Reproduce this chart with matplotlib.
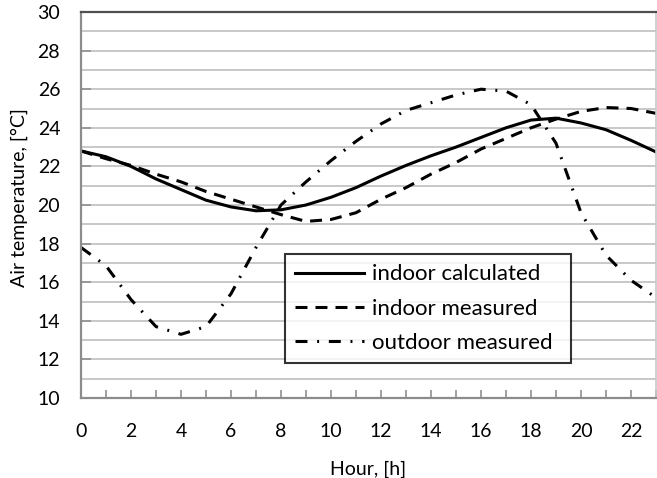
import matplotlib
matplotlib.use("Agg")
import matplotlib.pyplot as plt
import numpy as np

plt.rcParams['font.family'] = ['Lato', 'DejaVu Sans']
plt.rcParams['lines.scale_dashes'] = False

hours = list(range(24))
indoor_calculated = [22.8, 22.5, 22.0, 21.35, 20.8, 20.25, 19.9, 19.7,
                     19.75, 20.0, 20.4, 20.9, 21.5, 22.05, 22.55, 23.0,
                     23.5, 24.0, 24.4, 24.5, 24.25, 23.9, 23.35, 22.75]
indoor_measured = [22.8, 22.4, 22.05, 21.6, 21.2, 20.7, 20.3, 19.9,
                   19.5, 19.15, 19.25, 19.6, 20.3, 20.9, 21.6, 22.2,
                   22.9, 23.45, 24.0, 24.45, 24.85, 25.05, 25.0, 24.75]
outdoor_measured = [17.8, 16.85, 15.1, 13.7, 13.3, 13.7, 15.4, 17.8,
                    20.0, 21.2, 22.3, 23.3, 24.2, 24.9, 25.3, 25.7,
                    26.0, 25.9, 25.2, 23.2, 19.6, 17.4, 16.1, 15.2]

fig = plt.figure(figsize=(6.57, 4.78), dpi=100)
ax = fig.add_axes([81 / 657, 80 / 478, 575 / 657, 386 / 478])

lw = 2.2
ax.plot(hours, indoor_calculated, color='black', lw=lw, label='indoor calculated')
ax.plot(hours, indoor_measured, color='black', lw=lw, dashes=(8.6, 5.8),
        label='indoor measured')
ax.plot(hours, outdoor_measured, color='black', lw=lw,
        dashes=(8.6, 7.0, 1.4, 7.0), label='outdoor measured')

ax.set_xlim(0, 23)
ax.set_ylim(10, 30)
ax.set_xticks(np.arange(0, 23, 2))
ax.set_xticks(np.arange(0, 24, 1), minor=True)
ax.set_yticks(np.arange(10, 31, 2))
ax.set_yticks(np.arange(10, 31, 1), minor=True)

ax.grid(axis='y', which='both', color='#c4c4c4', lw=1.3)
ax.set_axisbelow(True)

ax.tick_params(axis='x', which='both', direction='in', length=6, width=1.2,
               color='#909090', pad=18, labelsize=14)
ax.tick_params(axis='y', which='major', direction='in', length=7, width=1.2,
               color='#909090', pad=15, labelsize=14)
ax.tick_params(axis='y', which='minor', length=0)

for side in ['left', 'bottom']:
    ax.spines[side].set_color('#8c8c8c')
    ax.spines[side].set_linewidth(1.6)
ax.spines['top'].set_color('#505050')
ax.spines['top'].set_linewidth(1.6)
ax.spines['right'].set_color('#c8c8c8')
ax.spines['right'].set_linewidth(1.2)

ax.set_xlabel('Hour, [h]', fontsize=14)
ax.xaxis.set_label_coords(0.5, -0.162)
ax.set_ylabel('Air temperature, [°C]', fontsize=14)
ax.yaxis.set_label_coords(-0.092, 0.52)

leg = ax.legend(loc='lower left', bbox_to_anchor=(0.355, 0.09, 0.497, 0.28),
                mode='expand', fontsize=16,
                frameon=True, fancybox=False, edgecolor='black',
                handlelength=3.1, handletextpad=0.35, labelspacing=0.65,
                borderpad=0.45, borderaxespad=0)
leg.get_frame().set_linewidth(1.5)

fig.savefig('out.png', dpi=100)
